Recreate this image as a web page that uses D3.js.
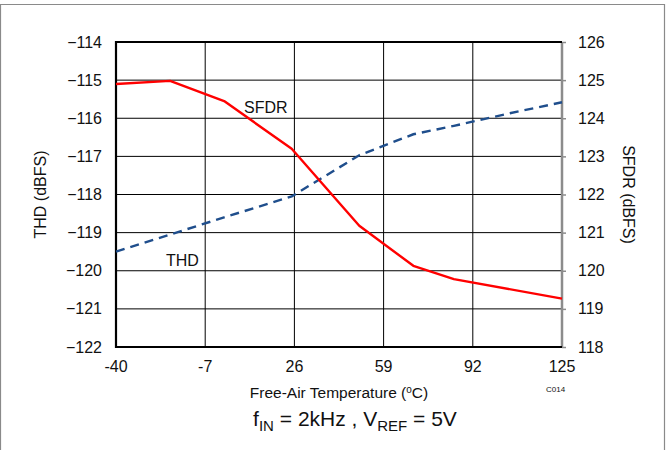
<!DOCTYPE html>
<html>
<head>
<meta charset="utf-8">
<script src="https://cdn.jsdelivr.net/npm/d3@7"></script>
<style>
  body { margin: 0; background: #fff; }
  svg { display: block; font-family: "Liberation Sans", Arial, sans-serif; }
</style>
</head>
<body>
<svg id="chart" width="666" height="450"></svg>
<script>
// temperature points (degC)
var temps = [-40, -20, 0, 25, 50, 70, 85, 105, 125];
// THD (dBFS), left axis
var thd = [-119.5, -119.05, -118.6, -118.05, -116.97, -116.42, -116.2, -115.88, -115.58];
// SFDR temperature points and values (dBFS), right axis
var sfdrTemps = [-40, -20, 0, 25, 50, 70, 85, 125];
var sfdr = [124.9, 124.98, 124.45, 123.2, 121.18, 120.13, 119.78, 119.27];

var xTicks = [-40, -7, 26, 59, 92, 125];
var leftTicks = [-114, -115, -116, -117, -118, -119, -120, -121, -122];
var rightTicks = [126, 125, 124, 123, 122, 121, 120, 119, 118];

var svg = d3.select('#chart');
var m = { left: 116, right: 562, top: 42, bottom: 347 };

var x = d3.scaleLinear().domain([-40, 125]).range([m.left, m.right]);
var yL = d3.scaleLinear().domain([-122, -114]).range([m.bottom, m.top]);
var yR = d3.scaleLinear().domain([118, 126]).range([m.bottom, m.top]);

// outer frame (no bottom edge)
svg.append('path')
  .attr('d', 'M0.5,450 L0.5,4.5 L664.5,4.5 L664.5,450')
  .attr('fill', 'none')
  .attr('stroke', '#8a8a8a')
  .attr('stroke-width', 1.2);

// grid
var grid = svg.append('g');
grid.selectAll('.vg').data(xTicks.slice(1, -1)).enter().append('line')
  .attr('x1', function (d) { return x(d); }).attr('x2', function (d) { return x(d); })
  .attr('y1', m.top).attr('y2', m.bottom)
  .attr('stroke', '#000').attr('stroke-width', 1);
grid.selectAll('.hg').data(leftTicks.slice(1, -1)).enter().append('line')
  .attr('x1', m.left).attr('x2', m.right)
  .attr('y1', function (d) { return yL(d); }).attr('y2', function (d) { return yL(d); })
  .attr('stroke', '#000').attr('stroke-width', 1);

// right axis (gray) with outward ticks
var rightAxis = d3.axisRight(yR).tickValues(rightTicks).tickSize(4).tickFormat('');
var ra = svg.append('g').attr('transform', 'translate(' + m.right + ',0)').call(rightAxis);
ra.select('.domain').attr('stroke', '#8c8c8c').attr('stroke-width', 2.5).attr('d', 'M0,' + m.top + 'V' + m.bottom);
ra.selectAll('.tick line').attr('stroke', '#8c8c8c').attr('stroke-width', 1.5);

// frame: left, top, bottom in black
svg.append('path')
  .attr('d', 'M' + m.right + ',' + m.top + ' H' + m.left + ' V' + m.bottom + ' H' + m.right)
  .attr('fill', 'none').attr('stroke', '#000').attr('stroke-width', 2.2);

// tick labels
var lbl = svg.append('g').attr('font-size', 16).attr('fill', '#111');
lbl.selectAll('.lt').data(leftTicks).enter().append('text')
  .attr('x', 102).attr('y', function (d) { return yL(d) + 5.5; })
  .attr('text-anchor', 'end')
  .text(function (d) { return '\u2212' + Math.abs(d); });
lbl.selectAll('.rt').data(rightTicks).enter().append('text')
  .attr('x', 578).attr('y', function (d) { return yR(d) + 5.5; })
  .text(function (d) { return d; });
lbl.selectAll('.xt').data(xTicks).enter().append('text')
  .attr('x', function (d) { return x(d); }).attr('y', 372)
  .attr('text-anchor', 'middle')
  .text(function (d) { return d; });

// axis titles
svg.append('text')
  .attr('transform', 'translate(46,' + ((m.top + m.bottom) / 2) + ') rotate(-90)')
  .attr('text-anchor', 'middle').attr('font-size', 16).attr('fill', '#111')
  .text('THD (dBFS)');
svg.append('text')
  .attr('transform', 'translate(623,' + ((m.top + m.bottom) / 2) + ') rotate(90)')
  .attr('text-anchor', 'middle').attr('font-size', 16).attr('fill', '#111')
  .text('SFDR (dBFS)');

var xt = svg.append('text')
  .attr('x', (m.left + m.right) / 2).attr('y', 398)
  .attr('text-anchor', 'middle').attr('font-size', 15.5).attr('fill', '#111');
xt.append('tspan').text('Free-Air Temperature (');
xt.append('tspan').attr('font-size', 10).attr('dy', -5).text('o');
xt.append('tspan').attr('dy', 5).text('C)');

svg.append('text').attr('x', 546).attr('y', 392)
  .attr('font-size', 8).attr('fill', '#111').text('C014');

// condition line
var ct = svg.append('text')
  .attr('x', 355).attr('y', 426)
  .attr('text-anchor', 'middle').attr('font-size', 21).attr('fill', '#111');
ct.append('tspan').text('f');
ct.append('tspan').attr('font-size', 15).attr('dy', 5).text('IN');
ct.append('tspan').attr('dy', -5).text(' = 2kHz , V');
ct.append('tspan').attr('font-size', 15).attr('dy', 5).text('REF');
ct.append('tspan').attr('dy', -5).text(' = 5V');

// series
var lineThd = d3.line()
  .x(function (d, i) { return x(temps[i]); })
  .y(function (d) { return yL(d); });
var lineSfdr = d3.line()
  .x(function (d, i) { return x(sfdrTemps[i]); })
  .y(function (d) { return yR(d); });

svg.append('path').datum(thd)
  .attr('d', lineThd)
  .attr('fill', 'none').attr('stroke', '#1f4e8c').attr('stroke-width', 2.4)
  .attr('stroke-dasharray', '9,6');

svg.append('path').datum(sfdr)
  .attr('d', lineSfdr)
  .attr('fill', 'none').attr('stroke', '#ff0000').attr('stroke-width', 2.4)
  .attr('stroke-linejoin', 'round');

// series labels
svg.append('text').attr('x', 244).attr('y', 113)
  .attr('font-size', 16).attr('fill', '#111').text('SFDR');
svg.append('text').attr('x', 166).attr('y', 266)
  .attr('font-size', 16).attr('fill', '#111').text('THD');
</script>
</body>
</html>
